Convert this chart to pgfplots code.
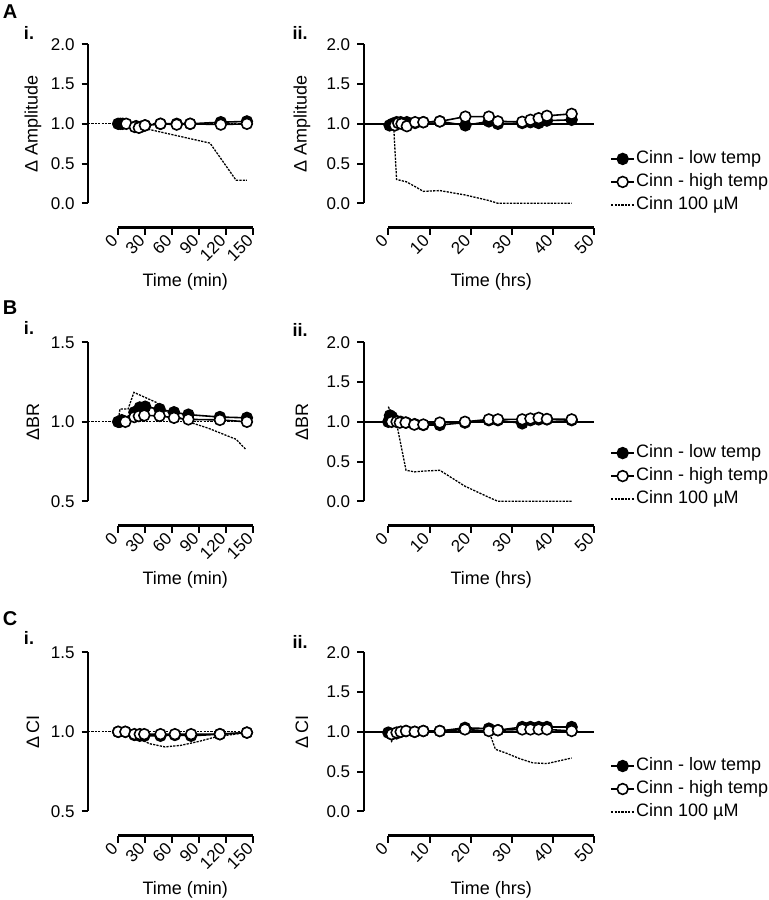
\documentclass[border=0pt]{standalone}
\usepackage{fontspec}
\setmainfont{Liberation Sans}
\usepackage{pgfplots}
\pgfplotsset{compat=1.18}
\pgfplotsset{
  prism/.style={
    scale only axis, height=92pt, clip=false,
    axis lines=left, axis line style={-, black, line width=1pt},
    tick align=outside, major tick length=3.2pt,
    xtick style={black, line width=1pt}, ytick style={black, line width=1pt},
    /pgf/number format/assume math mode=true,
    tick label style={font=\fontsize{8.5}{10}\selectfont},
    label style={font=\fontsize{9}{10}\selectfont},
    xticklabel style={rotate=45, anchor=east, inner sep=2.2pt},
    yticklabel style={/pgf/number format/fixed, /pgf/number format/fixed zerofill, /pgf/number format/precision=1},
    y axis line style={black, line width=1pt, shorten <=12.5pt},
    legend cell align=left,
    legend image code/.code={\draw[mark repeat=2,mark phase=2,#1] plot coordinates {(0pt,0pt) (5.75pt,0pt) (11.5pt,0pt)};},
    legend style={draw=none, fill=none, anchor=west, font=\fontsize{9}{10}\selectfont, inner sep=0pt, row sep=1.8pt, nodes={inner sep=0.6pt, text height=6.6pt, text depth=1.9pt}},
  },
  iax/.style={prism, width=82.6pt, xmin=-33.5, xmax=150, xtick={0,30,60,90,120,150},
    x axis line style={black, line width=1pt, shorten <=15.08pt},
    xlabel={Time (min)}, xlabel style={at={(axis description cs:0.5886,0)}, anchor=center, yshift=-27pt},
    ylabel style={at={(axis description cs:-0.333,0.567)}, anchor=center}},
  iiax/.style={prism, width=115.35pt, xmin=-6, xmax=50, xtick={0,10,20,30,40,50},
    x axis line style={black, line width=1pt, shorten <=12.36pt},
    xlabel={Time (hrs)}, xlabel style={at={(axis description cs:0.5536,0)}, anchor=center, yshift=-27pt},
    ylabel style={at={(axis description cs:-0.267,0.567)}, anchor=center}},
  lowy/.style={ymin=-0.3145, ymax=2, ytick={0,0.5,1,1.5,2}},
  narrowy/.style={ymin=0.3428, ymax=1.5, ytick={0.5,1,1.5}},
  cinn/.style={black, line width=0.65pt, dash pattern=on 1.1pt off 0.6pt, no marks},
  low/.style={black, line width=0.8pt, mark=*, mark size=2.7pt, mark options={solid, fill=black, line width=0.8pt}},
  high/.style={black, line width=0.8pt, mark=*, mark size=2.7pt, mark options={solid, fill=white, line width=0.8pt}},
  refsolid/.style={black, line width=0.9pt, no marks},
  refdot/.style={black, line width=0.7pt, dash pattern=on 1.1pt off 0.6pt, no marks},
  xline/.style={black, line width=1.2pt, no marks},
}
\newcommand{\legendentries}{%
  \addlegendimage{low}\addlegendentry{Cinn - low temp}
  \addlegendimage{high}\addlegendentry{Cinn - high temp}
  \addlegendimage{cinn}\addlegendentry{Cinn 100 µM}}
\begin{document}
\begin{tikzpicture}
\useasboundingbox (0,0) rectangle (384.5pt,450pt);
\node[font=\bfseries\fontsize{10}{12}\selectfont] at (5pt,444pt) {A};
\node[font=\bfseries\fontsize{9}{11}\selectfont] at (14.5pt,433.5pt) {i.};
\node[font=\bfseries\fontsize{9}{11}\selectfont] at (150pt,433.5pt) {ii.};
\node[font=\bfseries\fontsize{10}{12}\selectfont] at (5pt,296pt) {B};
\node[font=\bfseries\fontsize{9}{11}\selectfont] at (14.5pt,286pt) {i.};
\node[font=\bfseries\fontsize{9}{11}\selectfont] at (150pt,285pt) {ii.};
\node[font=\bfseries\fontsize{10}{12}\selectfont] at (5pt,140.5pt) {C};
\node[font=\bfseries\fontsize{9}{11}\selectfont] at (14.5pt,131pt) {i.};
\node[font=\bfseries\fontsize{9}{11}\selectfont] at (150pt,129pt) {ii.};

% ---------- A.i ----------
\begin{axis}[iax, lowy, at={(44pt,335.85pt)}, anchor=south west, ylabel={Δ Amplitude}]
\addplot[xline, forget plot] coordinates {(0,-0.2994) (150,-0.2994)};
\addplot[refdot, forget plot] coordinates {(-33.5,1) (150,1)};
\addplot[cinn, forget plot] coordinates {(0,1) (10,1) (20,0.97) (30,0.94) (102,0.757) (131,0.29) (143,0.29)};
\addplot[low, forget plot] coordinates {(0,1) (2.5,1) (5,1) (20,0.97) (25,0.96) (30,0.98) (47,1.0) (65,1.0) (80,1.0) (114,1.02) (143,1.03)};
\addplot[high, forget plot] coordinates {(9,1.0) (18.5,0.96) (23,0.95) (29.7,0.98) (47,1.0) (65,0.99) (80,1.0) (114,0.99) (143,1.0)};
\end{axis}

% ---------- A.ii ----------
\begin{axis}[iiax, lowy, at={(181.8pt,335.85pt)}, anchor=south west, ylabel={Δ Amplitude},
  legend style={at={(axis description cs:1.068,0.252)}}]
\addplot[xline, forget plot] coordinates {(0,-0.2994) (50,-0.2994)};
\addplot[refsolid, forget plot] coordinates {(-6,1) (50,1)};
\addplot[cinn, forget plot] coordinates {(0,1) (1.3,0.97) (2,0.30) (4.4,0.27) (6.5,0.21) (8.5,0.15) (12.5,0.16) (18.6,0.105) (24.4,0.035) (26.6,0.0) (44.5,0.0)};
\addplot[low, forget plot] coordinates {(0.3,0.98) (1,1.0) (2,1.02) (3,1.02) (4.5,1.02) (6.5,1.01) (8.5,1.02) (12.5,1.03) (18.7,0.98) (24.4,1.03) (26.6,1.0) (32.5,1.01) (34.5,1.02) (36.5,1.01) (38.5,1.04) (44.5,1.05)};
\addplot[high, forget plot] coordinates {(1.6,0.98) (2.4,1.01) (3.2,1.0) (4.5,0.97) (6.5,1.02) (8.5,1.02) (12.5,1.03) (18.7,1.09) (24.4,1.09) (26.6,1.03) (32.5,1.025) (34.5,1.05) (36.5,1.07) (38.5,1.1) (44.5,1.125)};
\legendentries
\end{axis}

% ---------- B.i ----------
\begin{axis}[iax, narrowy, at={(44pt,186.85pt)}, anchor=south west, ylabel={ΔBR}]
\addplot[xline, forget plot] coordinates {(0,0.3504) (150,0.3504)};
\addplot[refdot, forget plot] coordinates {(-33.5,1) (150,1)};
\addplot[cinn, forget plot] coordinates {(0,1) (2,1.08) (11,1.08) (17.5,1.185) (43,1.12) (52,1.07) (78,1.0) (100,0.96) (131,0.89) (142,0.825)};
\addplot[low, forget plot] coordinates {(0,1.0) (2,1.0) (4,1.01) (18,1.06) (24,1.09) (30,1.095) (46,1.08) (62,1.06) (78,1.045) (113,1.03) (143,1.025)};
\addplot[high, forget plot] coordinates {(8,1.0) (18,1.03) (23,1.036) (29,1.04) (46,1.037) (62,1.025) (78,1.015) (113,1.012) (143,1.0)};
\end{axis}

% ---------- B.ii ----------
\begin{axis}[iiax, lowy, at={(181.8pt,186.85pt)}, anchor=south west, ylabel={ΔBR},
  legend style={at={(axis description cs:1.068,0.273)}}]
\addplot[xline, forget plot] coordinates {(0,-0.2994) (50,-0.2994)};
\addplot[refsolid, forget plot] coordinates {(-6,1) (50,1)};
\addplot[cinn, forget plot] coordinates {(0,1.19) (2,0.98) (4.3,0.39) (6.4,0.37) (8.5,0.38) (12.5,0.39) (18.6,0.19) (24.4,0.05) (26.6,0.0) (44.5,0.0)};
\addplot[low, forget plot] coordinates {(0,1.0) (0.4,1.08) (0.9,1.06) (2,1.01) (3,1.0) (4.3,0.99) (6.4,0.97) (8.5,0.96) (12.5,0.96) (18.6,0.99) (24.4,1.02) (26.6,1.02) (32.5,0.98) (34.5,1.02) (36.5,1.03) (38.5,1.03) (44.5,1.02)};
\addplot[high, forget plot] coordinates {(0.8,1.0) (2,1.0) (2.8,0.99) (4.2,0.99) (6.3,0.965) (8.5,0.965) (12.5,0.99) (18.6,1.0) (24.4,1.03) (26.6,1.03) (32.5,1.03) (34.5,1.04) (36.5,1.05) (38.5,1.035) (44.5,1.03)};
\legendentries
\end{axis}

% ---------- C.i ----------
\begin{axis}[iax, narrowy, at={(44pt,31.85pt)}, anchor=south west, ylabel={Δ\,CI}]
\addplot[xline, forget plot] coordinates {(0,0.3504) (150,0.3504)};
\addplot[refdot, forget plot] coordinates {(-33.5,1) (150,1)};
\addplot[cinn, forget plot] coordinates {(0,1.0) (10,0.99) (20,0.965) (35,0.925) (52,0.905) (70,0.915) (90,0.94) (110,0.97) (143,0.995)};
\addplot[low, forget plot] coordinates {(0,1.0) (8,1.0) (18,0.98) (24,0.975) (29,0.975) (47,0.975) (63,0.98) (81,0.975) (113,0.985) (143,0.995)};
\addplot[high, forget plot] coordinates {(0,1.0) (8,1.0) (18,0.985) (24,0.985) (29,0.985) (47,0.985) (63,0.985) (81,0.985) (113,0.985) (143,0.995)};
\end{axis}

% ---------- C.ii ----------
\begin{axis}[iiax, lowy, at={(181.8pt,31.85pt)}, anchor=south west, ylabel={Δ\,CI},
  legend style={at={(axis description cs:1.068,0.257)}}]
\addplot[xline, forget plot] coordinates {(0,-0.2994) (50,-0.2994)};
\addplot[refsolid, forget plot] coordinates {(-6,1) (50,1)};
\addplot[cinn, forget plot] coordinates {(0,0.97) (0.8,0.88) (2,0.97) (4,1.0) (8.5,1.01) (12.5,1.01) (18.6,1.02) (24.4,1.01) (26,0.78) (28.7,0.73) (32,0.66) (35,0.61) (38.5,0.60) (44.5,0.67)};
\addplot[low, forget plot] coordinates {(0,0.99) (0.8,0.97) (2,0.98) (3,1.0) (4.3,1.01) (6.4,1.0) (8.5,1.01) (12.5,1.01) (18.6,1.05) (24.4,1.04) (26.6,1.02) (32.5,1.06) (34.5,1.06) (36.5,1.06) (38.5,1.06) (44.5,1.06)};
\addplot[high, forget plot] coordinates {(0.8,0.97) (2,0.99) (3,1.0) (4.3,1.01) (6.4,1.0) (8.5,1.01) (12.5,1.01) (18.6,1.03) (24.4,1.01) (26.6,1.02) (32.5,1.03) (34.5,1.03) (36.5,1.03) (38.5,1.03) (44.5,1.01)};
\legendentries
\end{axis}
\end{tikzpicture}
\end{document}
